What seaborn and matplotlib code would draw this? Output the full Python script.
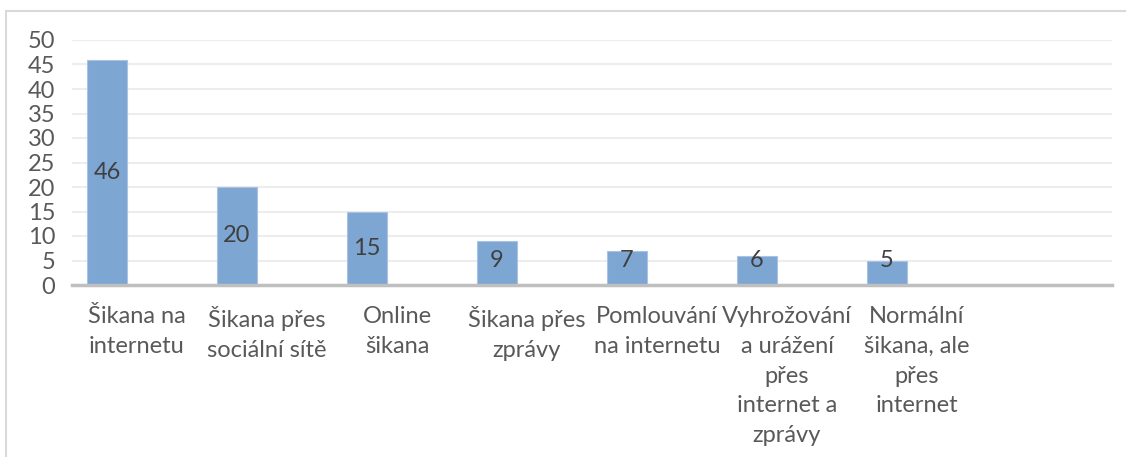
import matplotlib
matplotlib.use("Agg")
import matplotlib.pyplot as plt
import numpy as np
import pandas as pd
import seaborn as sns

# data
categories = [
    "Šikana na\ninternetu",
    "Šikana přes\nsociální sítě",
    "Online\nšikana",
    "Šikana přes\nzprávy",
    "Pomlouvání\nna internetu",
    "Vyhrožování\na urážení\npřes\ninternet a\nzprávy",
    "Normální\nšikana, ale\npřes\ninternet",
]
counts = [46, 20, 15, 9, 7, 6, 5]
y_ticks = list(range(0, 55, 5))

BAR = "#7EA6D3"
TXT = "#595959"
FS = 17


def main():
    sns.set_style("white")
    plt.rcParams["font.family"] = ["Lato", "DejaVu Sans"]

    df = pd.DataFrame({"kat": categories, "pocet": counts})
    order = categories + [" "]  # prazdny osmy slot jako v Excelu

    fig = plt.figure(figsize=(11.26, 4.57), dpi=100)
    ax = fig.add_axes([72 / 1126, 1 - 285 / 457, 1040 / 1126, 245 / 457])

    sns.barplot(data=df, x="kat", y="pocet", order=order, color=BAR,
                saturation=1, width=0.31, edgecolor="#A9C3E3", linewidth=0.8,
                ax=ax, zorder=3)

    # kategorie jsou posunute, sloupce sedi vlevo ve slotu
    shift = 35 / 130
    ax.set_xlim(-shift, 8 - shift)
    ax.set_ylim(0, 50)
    ax.set_xticks(np.arange(8) + 0.5 - shift)
    ax.set_xticklabels(order, fontsize=FS, color=TXT, linespacing=1.52,
                       va="top")
    for lab in ax.get_xticklabels():
        lab.set_multialignment("center")
    ax.set_yticks(y_ticks)
    ax.set_yticklabels([str(t) for t in y_ticks], fontsize=FS, color=TXT)
    ax.tick_params(axis="x", length=0, pad=15)
    ax.tick_params(axis="y", length=0, pad=12)
    ax.set_xlabel("")
    ax.set_ylabel("")

    ax.grid(axis="y", color="#EDEDED", linewidth=1.5, zorder=0)
    for s in ["top", "right", "left"]:
        ax.spines[s].set_visible(False)
    ax.spines["bottom"].set_color("#BFBFBF")
    ax.spines["bottom"].set_linewidth(2.5)
    ax.spines["bottom"].set_zorder(4)

    # popisky hodnot
    for i, v in enumerate(counts):
        ax.text(i, max(v / 2, 5.1), str(v), ha="center", va="center",
                fontsize=FS, color="#404040", zorder=5)

    # ramecek grafu
    fig.patches.append(plt.Rectangle((6 / 1126, -0.1), 1.2, 1.1 - 11 / 457,
                                     transform=fig.transFigure, fill=False,
                                     edgecolor="#D9D9D9", linewidth=1.5))

    fig.savefig("out.png", dpi=100)
    plt.close(fig)


if __name__ == "__main__":
    main()
